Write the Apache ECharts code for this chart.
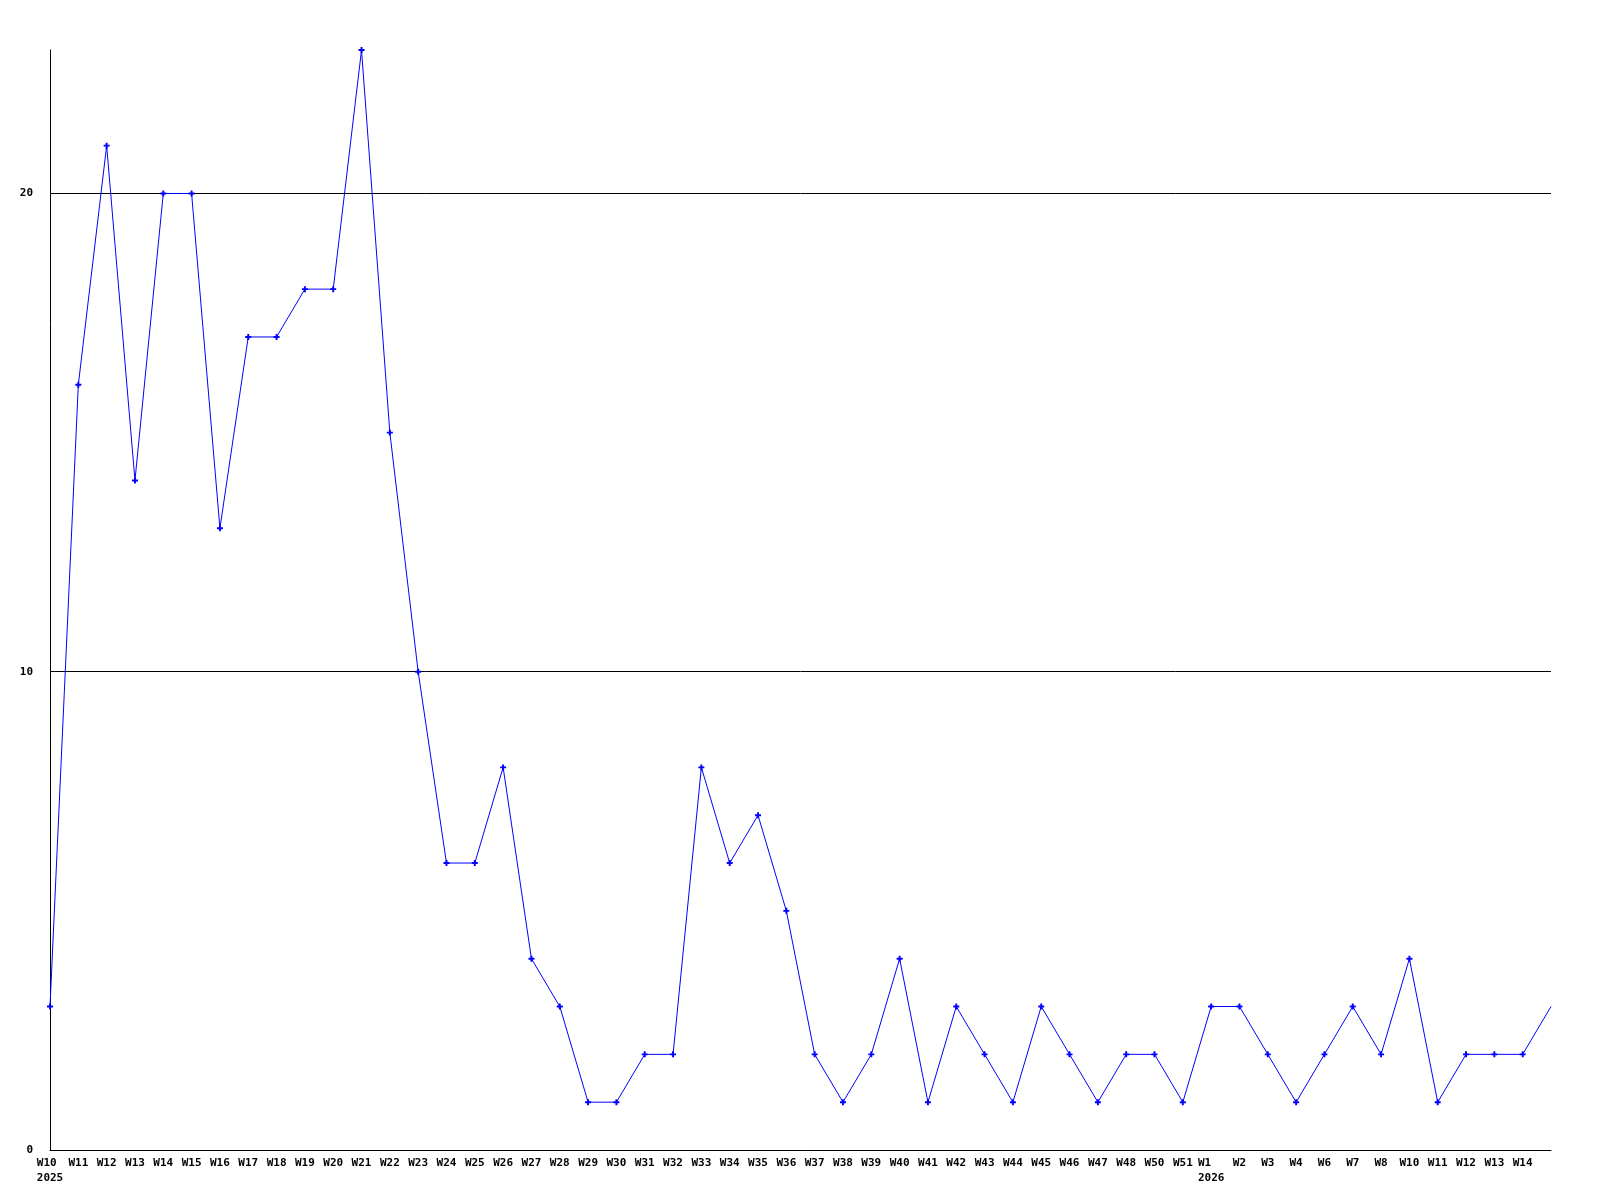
<!DOCTYPE html>
<html>
<head>
<meta charset="utf-8">
<script src="https://cdn.jsdelivr.net/npm/echarts@6/dist/echarts.min.js"></script>
<style>
  html, body { margin: 0; padding: 0; background: #fff; }
</style>
</head>
<body>
<div id="main" style="width:1600px;height:1200px;"></div>
<script>
// week labels along the x axis, last slot has no label (line runs to the edge)
var weeks = ['W10', 'W11', 'W12', 'W13', 'W14', 'W15', 'W16', 'W17', 'W18', 'W19',
  'W20', 'W21', 'W22', 'W23', 'W24', 'W25', 'W26', 'W27', 'W28', 'W29',
  'W30', 'W31', 'W32', 'W33', 'W34', 'W35', 'W36', 'W37', 'W38', 'W39',
  'W40', 'W41', 'W42', 'W43', 'W44', 'W45', 'W46', 'W47', 'W48', 'W50', 'W51',
  'W1', 'W2', 'W3', 'W4', 'W6', 'W7', 'W8', 'W10', 'W11', 'W12', 'W13', 'W14', ''];

var years = [2025, 2025, 2025, 2025, 2025, 2025, 2025, 2025, 2025, 2025,
  2025, 2025, 2025, 2025, 2025, 2025, 2025, 2025, 2025, 2025,
  2025, 2025, 2025, 2025, 2025, 2025, 2025, 2025, 2025, 2025,
  2025, 2025, 2025, 2025, 2025, 2025, 2025, 2025, 2025, 2025, 2025,
  2026, 2026, 2026, 2026, 2026, 2026, 2026, 2026, 2026, 2026, 2026, 2026, 2026];

var counts = [3, 16, 21, 14, 20, 20, 13, 17, 17, 18,
  18, 23, 15, 10, 6, 6, 8, 4, 3, 1,
  1, 2, 2, 8, 6, 7, 5, 2, 1, 2,
  4, 1, 3, 2, 1, 3, 2, 1, 2, 2, 1,
  3, 3, 2, 1, 2, 3, 2, 4, 1, 2, 2, 2, 3];

var yMax = 23;

var myChart = echarts.init(document.getElementById('main'));

var seriesData = counts.map(function (v, i) {
  // no marker on the point clipped at the right edge
  if (weeks[i] === '') return { value: v, symbol: 'none' };
  return v;
});

var labelFont = {
  fontFamily: 'DejaVu Sans Mono',
  fontWeight: 'bold',
  fontSize: 11,
  color: '#000',
  lineHeight: 15,
  align: 'left'
};

var option = {
  animation: false,
  backgroundColor: '#fff',
  grid: {
    left: 50,
    right: 49,
    top: 50,
    bottom: 50
  },
  xAxis: {
    type: 'category',
    boundaryGap: false,
    data: weeks,
    axisLine: { lineStyle: { color: '#000', width: 1 } },
    axisTick: { show: false },
    splitLine: { show: false },
    axisLabel: {
      interval: 0,
      margin: 6,
      formatter: function (value, idx) {
        if (value === '') return '';
        var showYear = idx === 0 || years[idx] !== years[idx - 1];
        return showYear ? '{w|' + value + '}\n{y|' + years[idx] + '}' : '{w|' + value + '}';
      },
      rich: {
        w: labelFont,
        y: labelFont
      }
    }
  },
  yAxis: {
    type: 'value',
    min: 0,
    max: yMax,
    interval: 10,
    axisLine: { show: true, lineStyle: { color: '#000', width: 1 } },
    axisTick: { show: false },
    splitLine: {
      show: true,
      lineStyle: { color: ['#000', '#000', '#000', 'rgba(0,0,0,0)'], width: 1 }
    },
    axisLabel: {
      margin: 17,
      showMaxLabel: false,
      fontFamily: 'DejaVu Sans Mono',
      fontWeight: 'bold',
      fontSize: 11,
      color: '#000'
    }
  },
  series: [
    {
      type: 'line',
      data: seriesData,
      symbol: 'path://M1.7,0H3.3V1.7H5V3.3H3.3V5H1.7V3.3H0V1.7H1.7Z',
      symbolSize: 6,
      showAllSymbol: true,
      lineStyle: { color: '#0000ff', width: 1 },
      itemStyle: { color: '#0000ff' },
      clip: true
    }
  ]
};

myChart.setOption(option);
</script>
</body>
</html>
